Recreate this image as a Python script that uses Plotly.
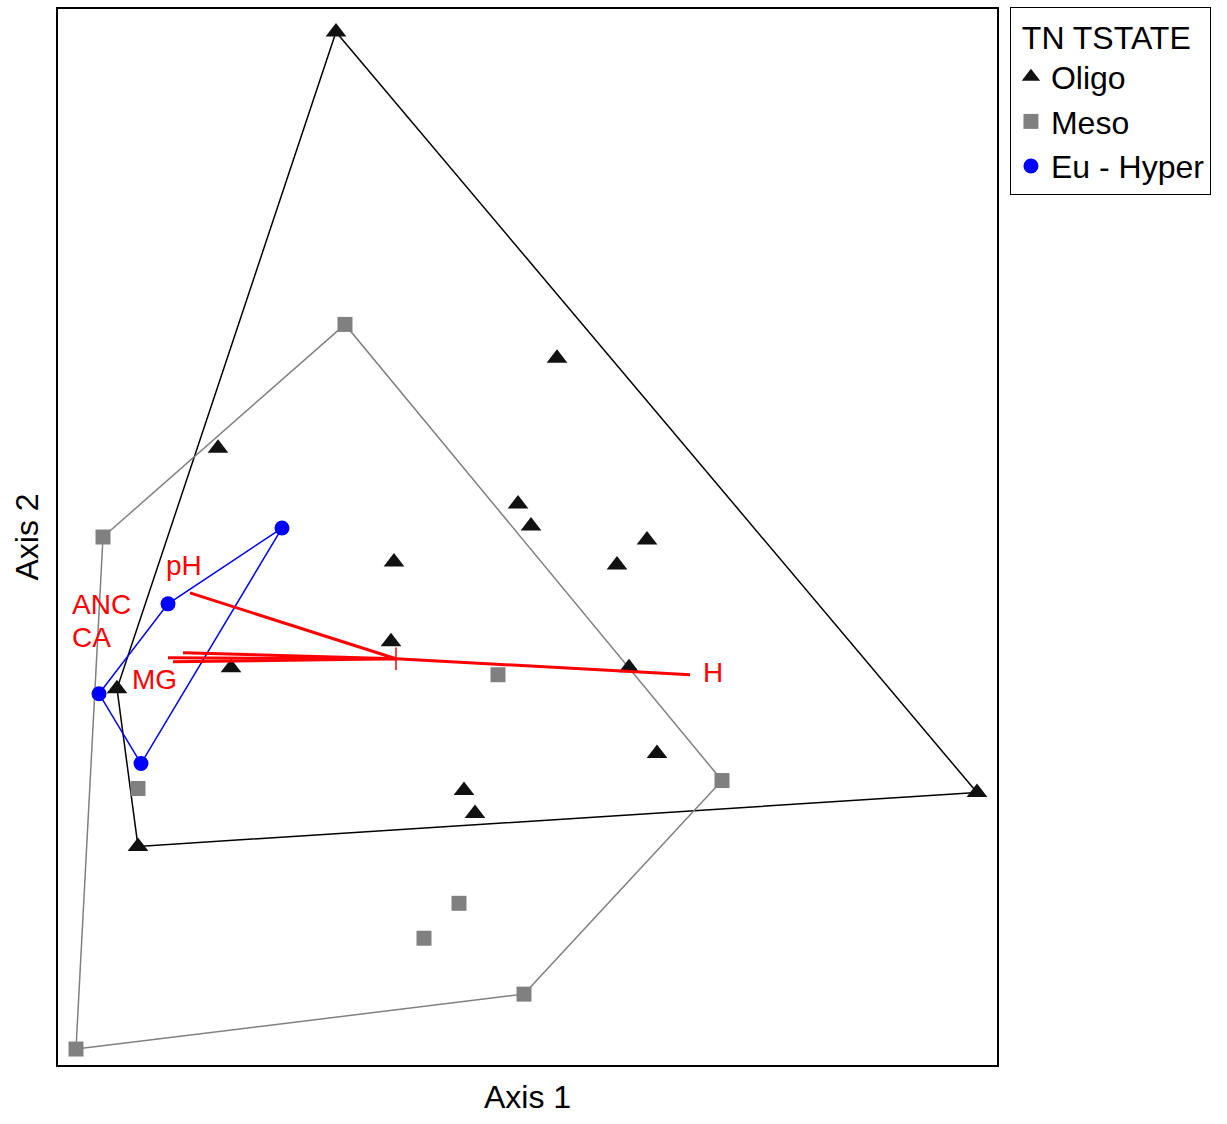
import plotly.graph_objects as go

# Ordination scores (Axis 1, Axis 2) per trophic state group
oligo_x = [-0.60, 1.61, -1.78, 1.22, 1.35, 2.51, 2.21, -0.02, -0.05, -1.65, 2.33, -2.79, 2.61, 0.68, 0.79, -2.58, 5.81]
oligo_y = [6.28, 3.01, 2.11, 1.55, 1.33, 1.19, 0.94, 0.97, 0.17, -0.09, -0.09, -0.30, -0.95, -1.32, -1.55, -1.88, -1.34]

meso_x = [-0.51, -2.93, 1.02, -2.58, 3.26, 0.63, 0.28, 1.28, -3.20]
meso_y = [3.35, 1.22, -0.16, -1.30, -1.22, -2.45, -2.80, -3.36, -3.91]

eu_x = [-1.14, -2.28, -2.97, -2.55]
eu_y = [1.31, 0.55, -0.35, -1.05]

# Environmental vectors (biplot arrows from the origin)
env_names = ["pH", "H", "ANC", "CA", "MG"]
env_x = [-2.06, 2.94, -2.13, -2.28, -2.23]
env_y = [0.66, -0.16, 0.06, 0.01, -0.03]

# Label placement for the vector names (data units)
env_label_pos = {
    "pH": (-2.12, 0.93),
    "H": (3.17, -0.14),
    "ANC": (-2.95, 0.54),
    "CA": (-3.05, 0.21),
    "MG": (-2.42, -0.21),
}

FONT = "Arial, Liberation Sans, sans-serif"


def convex_hull(xs, ys):
    pts = sorted(set(zip(xs, ys)))
    if len(pts) < 3:
        return pts

    def cross(o, a, b):
        return (a[0] - o[0]) * (b[1] - o[1]) - (a[1] - o[1]) * (b[0] - o[0])

    lower, upper = [], []
    for p in pts:
        while len(lower) >= 2 and cross(lower[-2], lower[-1], p) <= 0:
            lower.pop()
        lower.append(p)
    for p in reversed(pts):
        while len(upper) >= 2 and cross(upper[-2], upper[-1], p) <= 0:
            upper.pop()
        upper.append(p)
    hull = lower[:-1] + upper[:-1]
    return hull + [hull[0]]


groups = [
    ("Oligo", oligo_x, oligo_y, "#111111", "black", "triangle-up", 18),
    ("Meso", meso_x, meso_y, "#808080", "#808080", "square", 15),
    ("Eu - Hyper", eu_x, eu_y, "#0000ff", "#0000ff", "circle", 15),
]

fig = go.Figure()

# Group hulls
for name, xs, ys, mcol, lcol, sym, size in groups:
    hull = convex_hull(xs, ys)
    fig.add_trace(go.Scatter(
        x=[p[0] for p in hull], y=[p[1] for p in hull],
        mode="lines", line=dict(color=lcol, width=1.5),
        showlegend=False, hoverinfo="skip",
    ))

# Sample points
for name, xs, ys, mcol, lcol, sym, size in groups:
    fig.add_trace(go.Scatter(
        x=xs, y=ys, mode="markers", name=name,
        marker=dict(symbol=sym, size=size, color=mcol, line=dict(width=0)),
    ))

# Environmental vectors
for nm, vx, vy in zip(env_names, env_x, env_y):
    fig.add_trace(go.Scatter(
        x=[0, vx], y=[0, vy], mode="lines",
        line=dict(color="#ff0000", width=3),
        showlegend=False, hoverinfo="skip",
    ))
    lx, ly = env_label_pos[nm]
    fig.add_annotation(x=lx, y=ly, text=nm, showarrow=False,
                       font=dict(family=FONT, size=28, color="#ff0000"),
                       xanchor="center", yanchor="middle")

# Centroid mark
fig.add_trace(go.Scatter(
    x=[0], y=[0], mode="markers",
    marker=dict(symbol="line-ns", size=16, line=dict(color="#ff0000", width=1.5)),
    showlegend=False, hoverinfo="skip",
))

axis_common = dict(
    showgrid=False, zeroline=False, showticklabels=False, ticks="",
    showline=True, linecolor="black", linewidth=2, mirror=True,
)

fig.update_layout(
    width=1227, height=1124,
    margin=dict(l=58, r=230, t=7, b=59),
    paper_bgcolor="white", plot_bgcolor="white",
    font=dict(family=FONT, color="black"),
    xaxis=dict(range=[-3.38, 6.01], title=dict(text="Axis 1", font=dict(size=32), standoff=20), **axis_common),
    yaxis=dict(range=[-4.07, 6.51], title=dict(text="Axis 2", font=dict(size=32), standoff=8), **axis_common),
    legend=dict(
        title=dict(text="\u00a0TN TSTATE", font=dict(size=32)),
        font=dict(size=32),
        x=1.0138, xanchor="left", y=1.002, yanchor="top",
        bordercolor="black", borderwidth=1, bgcolor="white",
        itemwidth=30,
    ),
)

fig.write_html("out.html")
